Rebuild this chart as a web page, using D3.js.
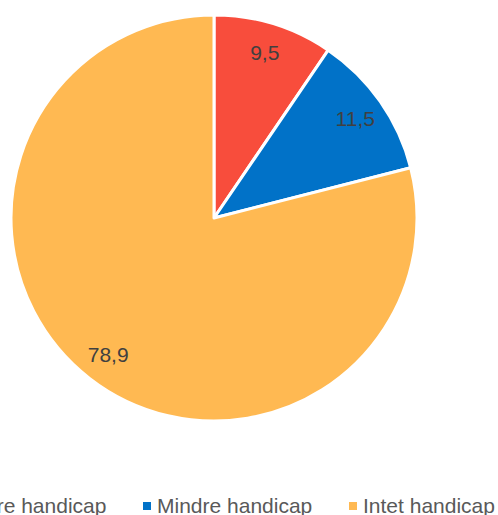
<!DOCTYPE html>
<html><head><meta charset="utf-8">
<script src="https://cdn.jsdelivr.net/npm/d3@7"></script>
<style>body{margin:0;background:#fff;overflow:hidden}</style>
</head><body>
<svg id="c" width="498" height="515"></svg>
<script>
const categories = ["Større handicap", "Mindre handicap", "Intet handicap"];
const values = [9.5, 11.5, 78.9];
const colors = ["#F84D3C", "#0172C8", "#FFB952"];

const svg = d3.select("#c");
const cx = 214, cy = 218, r = 203;
const pie = d3.pie().sort(null).value(d => d)(values);
const arc = d3.arc().innerRadius(0).outerRadius(r);
const labelArc = d3.arc().innerRadius(r * 0.85).outerRadius(r * 0.85);
const g = svg.append("g").attr("transform", `translate(${cx},${cy})`);
g.selectAll("path").data(pie).join("path")
  .attr("d", arc).attr("fill", (d, i) => colors[i])
  .attr("stroke", "#fff").attr("stroke-width", 3).attr("stroke-linejoin", "round");
g.selectAll("text").data(pie).join("text")
  .attr("transform", d => `translate(${labelArc.centroid(d)})`)
  .attr("text-anchor", "middle").attr("dy", "0.35em")
  .attr("font-family", "Liberation Sans, Arial, sans-serif").attr("font-size", 21)
  .attr("fill", "#404040")
  .text(d => String(d.data).replace(".", ","));

const legendX = [-43, 157, 363];
const lg = svg.append("g").attr("font-family", "Liberation Sans, Arial, sans-serif").attr("font-size", 21).attr("fill", "#595959");
categories.forEach((c, i) => {
  lg.append("rect").attr("x", legendX[i] - 14).attr("y", 502).attr("width", 8).attr("height", 8).attr("fill", colors[i]);
  lg.append("text").attr("x", legendX[i]).attr("y", 512.5).text(c);
});
</script>
</body></html>
